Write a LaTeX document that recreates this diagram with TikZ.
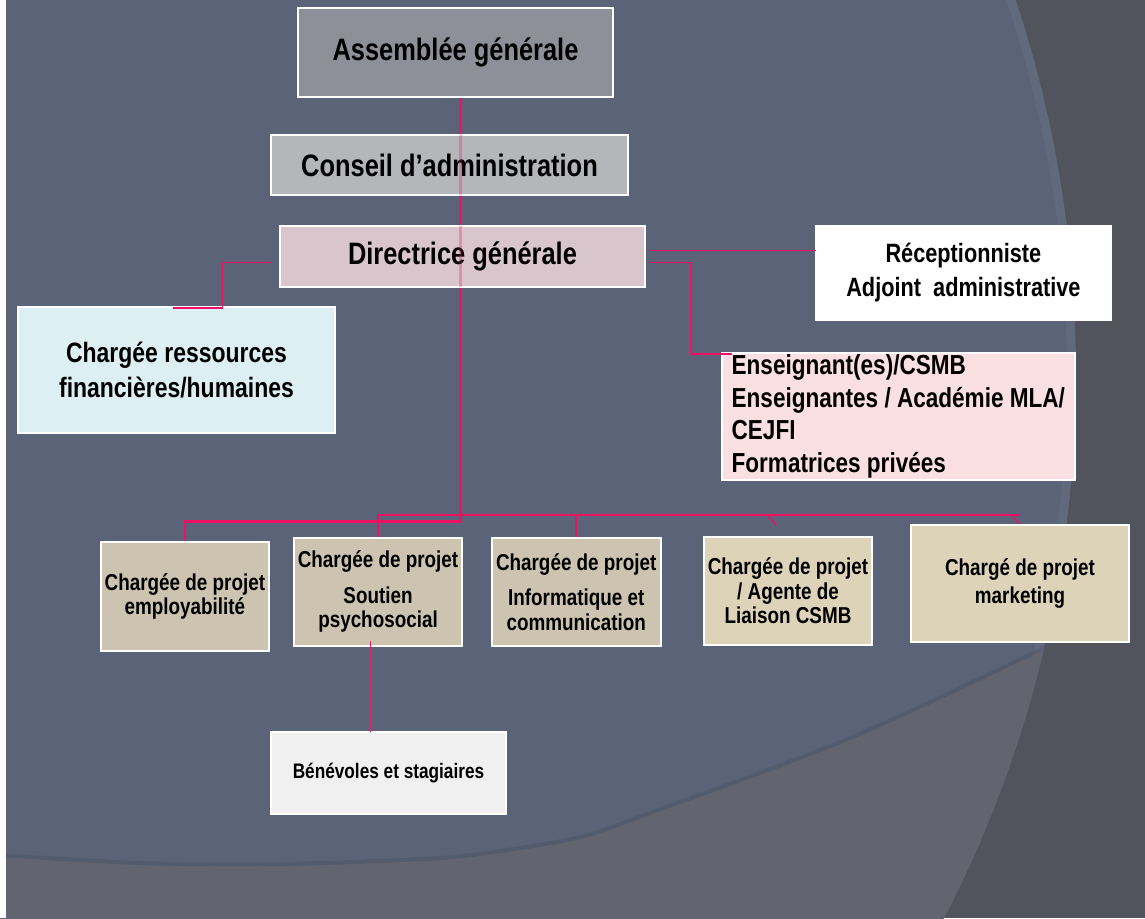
\documentclass[tikz,border=0pt]{standalone}
\usepackage{fontspec}
\setmainfont[FakeStretch=0.82]{Liberation Sans}
\usetikzlibrary{calc}
\pgfdeclarelayer{back}\pgfdeclarelayer{lines}\pgfdeclarelayer{front}
\pgfsetlayers{back,lines,main,front}
\definecolor{slate}{HTML}{5B6378}
\definecolor{darkbg}{HTML}{52545D}
\definecolor{midbg}{HTML}{62656F}
\definecolor{agfill}{HTML}{8E9099}
\definecolor{cafill}{HTML}{B5B6BA}
\definecolor{dgfill}{HTML}{D9C6CC}
\definecolor{ensfill}{HTML}{FAE0E3}
\definecolor{crffill}{HTML}{DDEFF3}
\definecolor{tanA}{HTML}{CCC4B0}
\definecolor{tanB}{HTML}{DDD3B8}
\definecolor{benfill}{HTML}{F0F0F0}
\definecolor{pinkline}{HTML}{EE1166}
\definecolor{subline}{HTML}{D8246E}
\tikzset{
  box/.style={draw=white, line width=2pt, inner sep=0pt, outer sep=0pt, align=center, text=black},
  fbig/.style={font=\bfseries\fontsize{31}{34}\selectfont},
  frec/.style={font=\bfseries\fontsize{26.5}{34}\selectfont},
  fens/.style={font=\bfseries\fontsize{27.5}{32.5}\selectfont},
  fcrf/.style={font=\bfseries\fontsize{28}{35}\selectfont},
  frow/.style={font=\bfseries\fontsize{23}{24.5}\selectfont},
  fmkt/.style={font=\bfseries\fontsize{23}{28}\selectfont},
  fben/.style={font=\bfseries\fontsize{21}{24}\selectfont},
  spine/.style={draw=pinkline, line width=2.2pt},
  side/.style={draw=pinkline, line width=1.6pt},
  diag/.style={draw=pinkline, line width=1.3pt},
  sub/.style={draw=subline, line width=1.6pt},
}
\begin{document}
\begin{tikzpicture}[x=1pt,y=-1pt]
\useasboundingbox (0,0) rectangle (1145,918);

% background
\begin{pgfonlayer}{back}
\clip (0,0) rectangle (1145,918);
\fill[darkbg] (0,0) rectangle (1145,918);
\begin{scope}
  \clip (-109,374) circle[radius=1185pt];
  \fill[slate] (0,0) rectangle (1145,918);
  \draw[line width=10pt, color=white, opacity=0.04] (-109,374) circle[radius=1181pt];
  \fill[midbg] plot[smooth] coordinates {(0,857) (140,865) (280,866) (440,860) (520,850) (584,838) (650,815) (850,740) (1050,647) (1160,590)} -- (1160,930) -- (0,930) -- cycle;
  \draw[line width=4pt, color=black, opacity=0.08] plot[smooth] coordinates {(0,855) (140,863) (280,864) (440,858) (520,848) (584,836) (650,813) (850,738) (1050,645) (1160,588)};
\end{scope}
\fill[white] (0,0) rectangle (6,918);
\end{pgfonlayer}

% nodes
\node[box, fbig, fill=agfill, minimum width=315pt, minimum height=89pt] (ag) at (455.5,52.5) {Assemblée générale};
\node[box, fbig, fill=cafill, minimum width=357pt, minimum height=60pt] (ca) at (449.5,165) {Conseil d’administration};
\node[box, fbig, fill=dgfill, minimum width=365pt, minimum height=61pt] (dg) at (462.5,256.5) {Directrice générale};
\node[box, frec, fill=white, minimum width=295pt, minimum height=94pt] (rec) at (963.4,273) {Réceptionniste\\Adjoint~~administrative};
\node[box, fens, fill=ensfill, align=left, line width=1.5pt, minimum width=353pt, minimum height=127pt] (ens) at (898.3,416.4) {Enseignant(es)/CSMB\\Enseignantes / Académie MLA/\\CEJFI\\Formatrices privées};
\node[box, fcrf, fill=crffill, minimum width=317pt, minimum height=126pt] (crf) at (176.5,370) {Chargée ressources\\financières/humaines};
\node[box, frow, fill=tanA, minimum width=168pt, minimum height=109pt] (emp) at (184.9,596.5) {Chargée de projet\\employabilité};
\node[box, frow, fill=tanA, minimum width=168pt, minimum height=108pt] (psy) at (378,591.8) {Chargée de projet\\[11pt]Soutien\\psychosocial};
\node[box, frow, fill=tanA, minimum width=169pt, minimum height=108pt] (inf) at (576.2,591.7) {Chargée de projet\\[11pt]Informatique et\\communication};
\node[box, frow, fill=tanB, minimum width=168pt, minimum height=108pt] (age) at (788,590.8) {Chargée de projet\\/ Agente de\\Liaison CSMB};
\node[box, fmkt, fill=tanB, minimum width=218pt, minimum height=117pt] (mkt) at (1020,583.4) {Chargé de projet\\marketing};
\node[box, fben, fill=benfill, minimum width=235pt, minimum height=82pt] (ben) at (388.5,773) {Bénévoles et stagiaires};

\coordinate (vx) at (460.5,0);
\coordinate (busLo) at (0,521.5);
\coordinate (busUp) at (0,515);
\coordinate (busEnd) at (1020,515);

% connectors behind boxes
\begin{pgfonlayer}{lines}
\draw[spine] (ag.south -| vx) -- (vx |- busLo) -- (emp.north |- busLo) -- (emp.north);
\draw[spine] (psy.north) -- (psy.north |- busUp) -- (busEnd);
\draw[spine] (inf.north) -- (inf.north |- busUp);
\draw[diag] ($(age.north |- busUp)+(-20.7,0)$) -- ($(age.north)+(-11.3,-11.7)$);
\draw[diag] ($(mkt.north |- busUp)+(-8.3,0)$) -- (mkt.north);
\end{pgfonlayer}

% connectors in front
\begin{pgfonlayer}{front}
\draw[spine, draw opacity=0.3] (ca.north -| vx) -- (ca.south -| vx);
\draw[spine, draw opacity=0.3] (dg.north -| vx) -- (dg.south -| vx);
\draw[side] ($(dg.west)+(-9,6)$) -| ($(crf.north)+(46,0.8)$) -- ($(crf.north)+(-3.5,0.8)$);
\coordinate (r1) at ($(dg.east)+(5,-6)$);
\draw[side] (r1) -- (r1 -| rec.west);
\coordinate (r2) at ($(dg.east)+(5,6)$);
\draw[side] (r2) -| ($(ens.north west)+(-31,0.8)$) -- ($(ens.north west)+(10,0.8)$);
\coordinate (pb) at ($(psy.south)+(-7.5,-4.5)$);
\draw[sub] (pb) -- (pb |- ben.north);
\end{pgfonlayer}
\end{tikzpicture}
\end{document}
